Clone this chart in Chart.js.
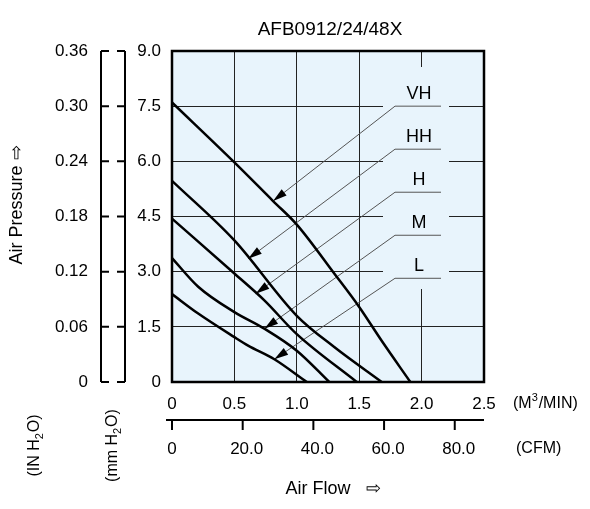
<!DOCTYPE html>
<html><head><meta charset="utf-8">
<script src="https://cdn.jsdelivr.net/npm/chart.js@4/dist/chart.umd.min.js"></script>
<style>body{margin:0;background:#fff}#wrap{width:590px;height:509px}</style>
</head><body><div id="wrap"><canvas id="c"></canvas></div>
<script>
// curve data: x in M3/MIN, y in mmH2O
const vhX = [0, 0.5, 0.81, 1.0, 1.3, 1.5, 1.68, 1.91];
const vhY = [7.6, 5.97, 4.92, 4.28, 2.95, 2.04, 1.12, 0];
const hhX = [0, 0.5, 1.0, 1.3, 1.68];
const hhY = [5.47, 3.85, 1.8, 0.95, 0];
const hX = [0, 0.5, 0.74, 1.0, 1.48];
const hY = [4.44, 2.95, 2.22, 1.3, 0];
const mX = [0, 0.21, 0.5, 0.74, 1.0, 1.26];
const mY = [3.37, 2.59, 1.9, 1.45, 0.85, 0];
const lX = [0, 0.21, 0.5, 0.61, 0.82, 1.08];
const lY = [2.39, 1.86, 1.22, 0.99, 0.62, 0];

const flowTicks = ['0', '0.5', '1.0', '1.5', '2.0', '2.5'];
const cfmTicks = ['0', '20.0', '40.0', '60.0', '80.0'];
const mmTicks = ['0', '1.5', '3.0', '4.5', '6.0', '7.5', '9.0'];
const inTicks = ['0', '0.06', '0.12', '0.18', '0.24', '0.30', '0.36'];
const speedLabels = ['VH', 'HH', 'H', 'M', 'L'];
// where each leader arrow lands on its curve (x, y in data units)
const arrowTargets = [[0.81, 4.92], [0.61, 3.35], [0.67, 2.4], [0.74, 1.45], [0.82, 0.62]];

const toPts = (xs, ys) => xs.map((x, i) => ({x, y: ys[i]}));
const BG = '#e8f4fc';
const F = '"Liberation Sans", Arial';

const deco = {
  id: 'deco',
  beforeDraw(ch) {
    const a = ch.chartArea, c = ch.ctx;
    c.save(); c.fillStyle = BG; c.fillRect(a.left, a.top, a.width, a.height); c.restore();
  },
  beforeDatasetsDraw(ch) {
    const a = ch.chartArea, c = ch.ctx, xs = ch.scales.x, ys = ch.scales.y;
    c.save();
    c.fillStyle = BG;
    c.fillRect(383, a.top + 16, 66, 222);
    speedLabels.forEach((lab, i) => {
      const yl = ys.getPixelForValue(7.5 - i * 1.17);
      const tx = xs.getPixelForValue(arrowTargets[i][0]);
      const ty = ys.getPixelForValue(arrowTargets[i][1]);
      c.strokeStyle = '#555'; c.lineWidth = 1;
      c.beginPath(); c.moveTo(395, yl); c.lineTo(441, yl); c.stroke();
      c.beginPath(); c.moveTo(395, yl); c.lineTo(tx, ty); c.stroke();
      const ang = Math.atan2(ty - yl, tx - 395);
      c.fillStyle = '#000';
      c.beginPath(); c.moveTo(tx, ty);
      c.lineTo(tx - 14 * Math.cos(ang) + 4 * Math.sin(ang), ty - 14 * Math.sin(ang) - 4 * Math.cos(ang));
      c.lineTo(tx - 14 * Math.cos(ang) - 4 * Math.sin(ang), ty - 14 * Math.sin(ang) + 4 * Math.cos(ang));
      c.closePath(); c.fill();
      c.font = '18px ' + F; c.textAlign = 'center'; c.textBaseline = 'bottom';
      c.fillText(lab, 419, yl - 3);
    });
    c.restore();
  },
  afterDraw(ch) {
    const a = ch.chartArea, c = ch.ctx, xs = ch.scales.x, ys = ch.scales.y;
    c.save();
    c.strokeStyle = '#000'; c.lineWidth = 2.5;
    c.strokeRect(a.left, a.top, a.width, a.height);
    c.fillStyle = '#000';
    c.font = '19px ' + F;
    c.textAlign = 'center'; c.textBaseline = 'middle';
    c.fillText('AFB0912/24/48X', 330, 30);
    // left axes
    c.lineWidth = 2;
    c.beginPath(); c.moveTo(101, a.top); c.lineTo(101, a.bottom); c.moveTo(125, a.top); c.lineTo(125, a.bottom); c.stroke();
    c.font = '17px ' + F;
    c.textAlign = 'right';
    mmTicks.forEach((t, i) => {
      const y = ys.getPixelForValue(i * 1.5);
      c.beginPath(); c.moveTo(101, y); c.lineTo(109, y); c.moveTo(117, y); c.lineTo(125, y); c.stroke();
      c.fillText(inTicks[i], 88, y);
      c.fillText(t, 161, y);
    });
    // bottom axes
    c.textAlign = 'center';
    flowTicks.forEach((t, i) => c.fillText(t, xs.getPixelForValue(i * 0.5), 404));
    c.beginPath(); c.moveTo(a.left - 6, 420); c.lineTo(a.right, 420); c.stroke();
    cfmTicks.forEach((t, i) => {
      const x = xs.getPixelForValue(i * 20 / 35.31);
      c.beginPath(); c.moveTo(x, 420); c.lineTo(x, 430); c.stroke();
      c.fillText(t, x + (i ? 4 : 0), 449);
    });
    c.font = '16px ' + F;
    c.textAlign = 'left';
    c.fillText('(M', 513, 404);
    let w = c.measureText('(M').width;
    c.font = '11px ' + F; c.fillText('3', 513 + w, 398);
    c.font = '16px ' + F; c.fillText('/MIN)', 520 + w, 404);
    c.fillText('(CFM)', 516, 449);
    c.font = '18px ' + F;
    c.textAlign = 'center';
    c.fillText('Air Flow   \u21e8', 333, 489);
    const rot = (x, y, fn) => { c.save(); c.translate(x, y); rot2(); fn(); c.restore(); };
    const rot2 = () => c.rotate(-Math.PI / 2);
    rot(17, 205, () => { c.font = '18px ' + F; c.fillText('Air Pressure \u21e8', 0, 0); });
    const sub = (x, pre, post) => rot(x, 445, () => {
      c.font = '16px ' + F; c.textAlign = 'left';
      const w1 = c.measureText(pre).width, w2 = c.measureText(post).width;
      const s = -(w1 + 8 + w2) / 2;
      c.fillText(pre, s, 0);
      c.font = '11px ' + F; c.fillText('2', s + w1, 5);
      c.font = '16px ' + F; c.fillText(post, s + w1 + 7, 0);
    });
    sub(35, '(IN H', 'O)');
    sub(113, '(mm H', 'O)');
    c.restore();
  }
};

const series = [[vhX, vhY], [hhX, hhY], [hX, hY], [mX, mY], [lX, lY]];
new Chart(document.getElementById('c'), {
  type: 'scatter',
  data: {
    datasets: series.map((s, i) => ({
      label: speedLabels[i], data: toPts(s[0], s[1]), showLine: true,
      borderColor: '#000', borderWidth: 2.5, pointRadius: 0, cubicInterpolationMode: 'monotone'
    }))
  },
  options: {
    responsive: true, maintainAspectRatio: false, animation: false,
    layout: {padding: {left: 172, right: 106, top: 51, bottom: 127}},
    plugins: {legend: {display: false}, tooltip: {enabled: false}},
    scales: {
      x: {min: 0, max: 2.5, ticks: {display: false, stepSize: 0.5}, border: {display: false},
          grid: {color: '#222', lineWidth: 1, drawTicks: false}},
      y: {min: 0, max: 9, ticks: {display: false, stepSize: 1.5}, border: {display: false},
          grid: {color: '#222', lineWidth: 1, drawTicks: false}}
    }
  },
  plugins: [deco]
});
</script></body></html>
